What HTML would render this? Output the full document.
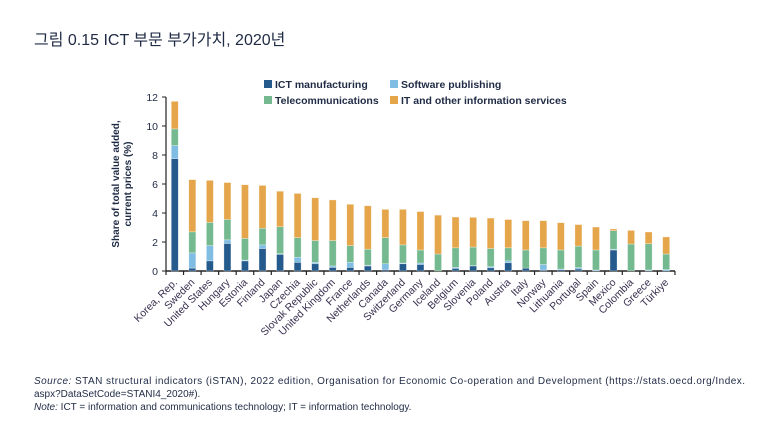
<!DOCTYPE html>
<html><head><meta charset="utf-8"><style>
body{margin:0;background:#fff;width:767px;height:422px;overflow:hidden;font-family:"Liberation Sans","Noto Sans CJK KR",sans-serif}
</style></head><body>
<svg id="c" width="767" height="422" xmlns="http://www.w3.org/2000/svg">
<text x="34" y="45" font-size="16" fill="#1f2a44" font-family="Liberation Sans, Noto Sans CJK KR, sans-serif">그림 0.15  ICT 부문 부가가치, 2020년</text>
<g font-size="10.5" font-weight="bold" fill="#1f2a44">
<rect x="264" y="80" width="8" height="8" fill="#245a8c"/>
<text x="275" y="88">ICT manufacturing</text>
<rect x="390" y="80" width="8" height="8" fill="#7fbde3"/>
<text x="401" y="88">Software publishing</text>
<rect x="264" y="96" width="8" height="8" fill="#74b98f"/>
<text x="275" y="104">Telecommunications</text>
<rect x="390" y="96" width="8" height="8" fill="#e5a54a"/>
<text x="401" y="104">IT and other information services</text>
</g>
<text transform="translate(124,184) rotate(-90)" text-anchor="middle" font-size="10" font-weight="bold" fill="#1f2a44"><tspan x="0" dy="-5">Share of total value added,</tspan><tspan x="0" dy="12">current prices (%)</tspan></text>
<g id="plot"></g>
<g font-size="10" fill="#1f2a44">
<text x="34" y="384" textLength="711" lengthAdjust="spacing"><tspan font-style="italic">Source:</tspan> STAN structural indicators (iSTAN), 2022 edition, Organisation for Economic Co-operation and Development (https://stats.oecd.org/Index.</text>
<text x="34" y="397">aspx?DataSetCode=STANI4_2020#).</text>
<text x="34" y="410"><tspan font-style="italic">Note:</tspan> ICT = information and communications technology; IT = information technology.</text>
</g>
</svg>
<script>
const countries=["Korea, Rep.","Sweden","United States","Hungary","Estonia","Finland","Japan","Czechia","Slovak Republic","United Kingdom","France","Netherlands","Canada","Switzerland","Germany","Iceland","Belgium","Slovenia","Poland","Austria","Italy","Norway","Lithuania","Portugal","Spain","Mexico","Colombia","Greece","Türkiye"];
const ictManufacturing=[7.75,0.2,0.7,1.9,0.7,1.55,1.15,0.6,0.5,0.25,0.25,0.35,0.1,0.5,0.45,0,0.18,0.35,0.22,0.57,0.2,0.07,0.1,0.14,0,1.45,0,0,0];
const softwarePublishing=[0.9,1.05,1.05,0.25,0.05,0.25,0.05,0.35,0.1,0.1,0.35,0.05,0.4,0.05,0.1,0,0.07,0.02,0.08,0.13,0,0.38,0.04,0.09,0.07,0.05,0,0.07,0.1];
const telecommunications=[1.15,1.45,1.6,1.4,1.5,1.15,1.85,1.35,1.5,1.75,1.15,1.1,1.8,1.25,0.9,1.17,1.35,1.28,1.25,0.9,1.25,1.15,1.31,1.49,1.38,1.28,1.86,1.81,1.07];
const itServices=[1.9,3.6,2.9,2.55,3.7,2.95,2.45,3.05,2.95,2.8,2.85,3.0,1.95,2.45,2.65,2.68,2.12,2.05,2.1,1.95,2.02,1.87,1.88,1.48,1.58,0.12,0.94,0.81,1.18];
const yTicks=[0,2,4,6,8,10,12];
const series=[["ict-manufacturing",ictManufacturing,"#245a8c"],["software-publishing",softwarePublishing,"#7fbde3"],["telecommunications",telecommunications,"#74b98f"],["it-services",itServices,"#e5a54a"]];
const NS="http://www.w3.org/2000/svg";
const g=document.getElementById('plot');
const x0=166,step=17.55,y0=271,yMax=12,yTop=97;
const y=v=>y0-(v/yMax)*(y0-yTop);
const xc=i=>x0+step*(i+0.5);
function mk(t,a){const e=document.createElementNS(NS,t);for(const k in a)e.setAttribute(k,a[k]);g.appendChild(e);return e;}
let e=mk('line',{x1:x0,y1:y0,x2:x0+step*countries.length,y2:y0,stroke:'#222','stroke-width':1.5});


e=mk('line',{x1:x0,y1:y0,x2:x0,y2:yTop,stroke:'#222','stroke-width':1.2});


yTicks.forEach(v=>{
 let t=mk('line',{x1:x0-4,x2:x0,y1:y(v),y2:y(v),stroke:'#222'});
 
 
 let l=mk('text',{x:x0-8,y:y(v)+4,'text-anchor':'end','font-size':10.5,fill:'#1f2a44'});
 l.textContent=v;
 
 
});
for(let i=0;i<=countries.length;i++){
 let t=mk('line',{x1:x0+step*i,x2:x0+step*i,y1:y0,y2:y0+4,stroke:'#222','stroke-width':1.2});
 
 
}
countries.forEach((c,i)=>{
 let cum=0;
 series.forEach(([n,arr,col])=>{
  const v=arr[i];
  if(v>0){
   let r=mk('rect',{x:xc(i)-3.5,y:y(cum+v),width:7,height:y(cum)-y(cum+v),fill:col,stroke:'#fff','stroke-opacity':0.5,'stroke-width':0.6});
   
   
  }
  cum+=v;
 });
 let l=mk('text',{x:xc(i)+3,y:y0+12,'text-anchor':'end','font-size':10.5,fill:'#3a3050',transform:`rotate(-45 ${xc(i)+3} ${y0+12})`});
 l.textContent=c;
 
 
});
</script>
</body></html>
